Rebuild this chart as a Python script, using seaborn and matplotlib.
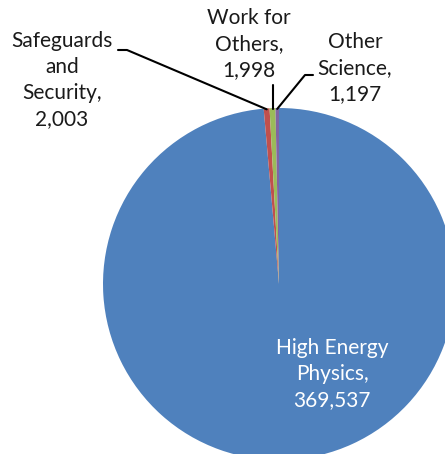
import numpy as np
import matplotlib
matplotlib.use("Agg")
import matplotlib.pyplot as plt
import seaborn as sns

categories = ["High Energy Physics", "Safeguards and Security", "Work for Others", "Other Science"]
values = [369537, 2003, 1998, 1197]
label_lines = [["High Energy", "Physics,"], ["Safeguards", "and", "Security,"],
               ["Work for", "Others,"], ["Other", "Science,"]]
colors = ["#4F81BD", "#C0504D", "#9BBB59", "#8064A2"]

sns.set_style("white")
plt.rcParams["font.family"] = ["Lato", "DejaVu Sans"]

W, H = 445, 454
fig = plt.figure(figsize=(W / 100, H / 100), dpi=100)
cx, cy, r = 279, 284, 176  # pixel geometry (from top)
ax = fig.add_axes([(cx - r) / W, (H - cy - r) / H, 2 * r / W, 2 * r / H])
wedges, _ = ax.pie(values, colors=colors, startangle=90, counterclock=False,
                   wedgeprops=dict(linewidth=0))
ax.set_xlim(-1, 1)
ax.set_ylim(-1, 1)
ax.set_aspect("equal")
ax.axis("off")

def d(px, py):
    return ((px - cx) / r, (cy - py) / r)

def lab(i):
    return "\n".join(label_lines[i] + [f"{values[i]:,}"])

def anchor(i, rad=0.995):
    w = wedges[i]
    a = np.deg2rad((w.theta1 + w.theta2) / 2)
    return rad * np.cos(a), rad * np.sin(a)

fs = 15
ls = 1.36
tc = "#1a1a1a"
# HEP label
x, y = d(332, 374)
ax.text(x, y, lab(0), ha="center", va="center", color="white", fontsize=fs, linespacing=ls)
# Safeguards
x, y = d(62, 80)
ax.text(x, y, lab(1), ha="center", va="center", color=tc, fontsize=fs, linespacing=ls, clip_on=False)
p1 = d(118, 50); p2 = d(127, 50); p3 = anchor(1)
ax.plot([p1[0], p2[0], p3[0]], [p1[1], p2[1], p3[1]], color="black", lw=1.5, clip_on=False)
# Work for Others
x, y = d(249, 44)
ax.text(x, y, lab(2), ha="center", va="center", color=tc, fontsize=fs, linespacing=ls, clip_on=False)
p3 = anchor(2)
p1 = (p3[0], d(0, 85)[1])
ax.plot([p1[0], p3[0]], [p1[1], p3[1]], color="black", lw=1.5, clip_on=False)
# Other Science
x, y = d(355, 68)
ax.text(x, y, lab(3), ha="center", va="center", color=tc, fontsize=fs, linespacing=ls, clip_on=False)
p1 = d(313, 75); p2 = d(305, 75); p3 = anchor(3)
ax.plot([p1[0], p2[0], p3[0]], [p1[1], p2[1], p3[1]], color="black", lw=1.5, clip_on=False)

fig.savefig("out.png", dpi=100)
